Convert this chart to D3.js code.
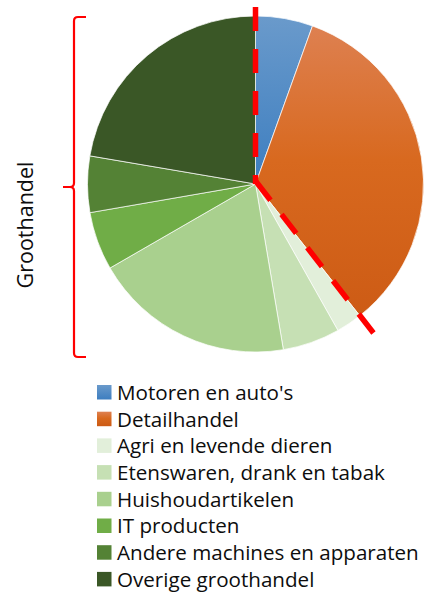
<!DOCTYPE html>
<html>
<head>
<meta charset="utf-8">
<script src="https://cdn.jsdelivr.net/npm/d3@7"></script>
<style>
  body { margin: 0; background: #fff; }
  text { font-family: "Open Sans", sans-serif; fill: #0d0d0d; }
</style>
</head>
<body>
<div class="chart"></div>
<script>
// data (share of total, %)
const categories = ["Motoren en auto's", "Detailhandel", "Agri en levende dieren",
  "Etenswaren, drank en tabak", "Huishoudartikelen", "IT producten",
  "Andere machines en apparaten", "Overige groothandel"];
const values = [5.5, 33.8, 2.5, 5.5, 19.3, 5.6, 5.4, 22.3];
const bracketLabel = "Groothandel";

const fills = ["url(#gBlue)", "url(#gOrange)", "#e2efda", "#c6e0b4", "#a9d08e", "#70ad47", "#548235", "#3a5726"];
const legendFills = ["url(#lBlue)", "url(#lOrange)", "#e2efda", "#c6e0b4", "#a9d08e", "#70ad47", "#548235", "#3a5726"];

const svgWidth = 425, svgHeight = 592;
const cx = 255.5, cy = 184, radius = 168;

const svg = d3.select(".chart").append("svg")
  .attr("width", svgWidth)
  .attr("height", svgHeight);

const defs = svg.append("defs");
function grad(id, stops, units, y1, y2) {
  const g = defs.append("linearGradient").attr("id", id)
    .attr("x1", 0).attr("x2", 0).attr("y1", y1).attr("y2", y2)
    .attr("gradientUnits", units);
  stops.forEach(s => g.append("stop").attr("offset", s[0]).attr("stop-color", s[1]));
}
const blueStops = [[0, "#6a9acb"], [1, "#3d7ec0"]];
const orangeStops = [[0, "#de8152"], [0.45, "#d8691f"], [1, "#cc5a14"]];
// pie gradients live in the translated pie group, so coords are relative to the centre
grad("gBlue", blueStops, "userSpaceOnUse", -radius, 0);
grad("gOrange", orangeStops, "userSpaceOnUse", -radius + 6, radius - 22);
grad("lBlue", blueStops, "objectBoundingBox", 0, 1);
grad("lOrange", orangeStops, "objectBoundingBox", 0, 1);

// pie
const pie = d3.pie().sort(null).value(d => d);
const arc = d3.arc().innerRadius(0).outerRadius(radius);

const pieGroup = svg.append("g")
  .attr("transform", `translate(${cx}, ${cy})`);

pieGroup.selectAll("path")
  .data(pie(values))
  .enter()
  .append("path")
  .attr("d", arc)
  .attr("fill", (d, i) => fills[i])
  .attr("stroke", "#fff")
  .attr("stroke-width", 0.7);

// red dashed markers: vertical at 0° and diagonal at end of Detailhandel
const cut = pie(values)[1].endAngle;
const redDash = svg.append("g")
  .attr("stroke", "#ff0000")
  .attr("stroke-width", 5.5)
  .attr("stroke-dasharray", "24,18")
  .attr("fill", "none");
redDash.append("line")
  .attr("x1", cx).attr("y1", 7)
  .attr("x2", cx).attr("y2", cy);
// drawn from the outer end inward so the dash pattern starts at the tip
const diagLen = 190;
redDash.append("line")
  .attr("x1", cx + Math.sin(cut) * diagLen).attr("y1", cy - Math.cos(cut) * diagLen)
  .attr("x2", cx - 3).attr("y2", cy - 7);

// curly bracket
const bx = 74, by0 = 17, by1 = 357, bmid = 187;
svg.append("path")
  .attr("d", `M${bx + 12},${by0} L${bx + 4},${by0} Q${bx},${by0} ${bx},${by0 + 4}
              L${bx},${bmid - 4} Q${bx},${bmid} ${bx - 4},${bmid} L${bx - 11},${bmid}
              M${bx - 4},${bmid} Q${bx},${bmid} ${bx},${bmid + 4}
              L${bx},${by1 - 4} Q${bx},${by1} ${bx + 4},${by1} L${bx + 12},${by1}`)
  .attr("fill", "none")
  .attr("stroke", "#ff0000")
  .attr("stroke-width", 2.2);

svg.append("text")
  .attr("transform", `translate(33, 225) rotate(-90)`)
  .attr("text-anchor", "middle")
  .style("font-size", "21.5px")
  .text(bracketLabel);

// legend
const legend = svg.append("g")
  .attr("transform", "translate(97, 385)");
const rowH = 26.7;
const items = legend.selectAll("g.item")
  .data(categories)
  .enter()
  .append("g")
  .attr("class", "item")
  .attr("transform", (d, i) => `translate(0, ${i * rowH})`);
items.append("rect")
  .attr("width", 14.5).attr("height", 14.5)
  .attr("fill", (d, i) => legendFills[i]);
items.append("text")
  .attr("x", 20)
  .attr("y", 14.8)
  .style("font-size", "20.6px")
  .text(d => d);
</script>
</body>
</html>
